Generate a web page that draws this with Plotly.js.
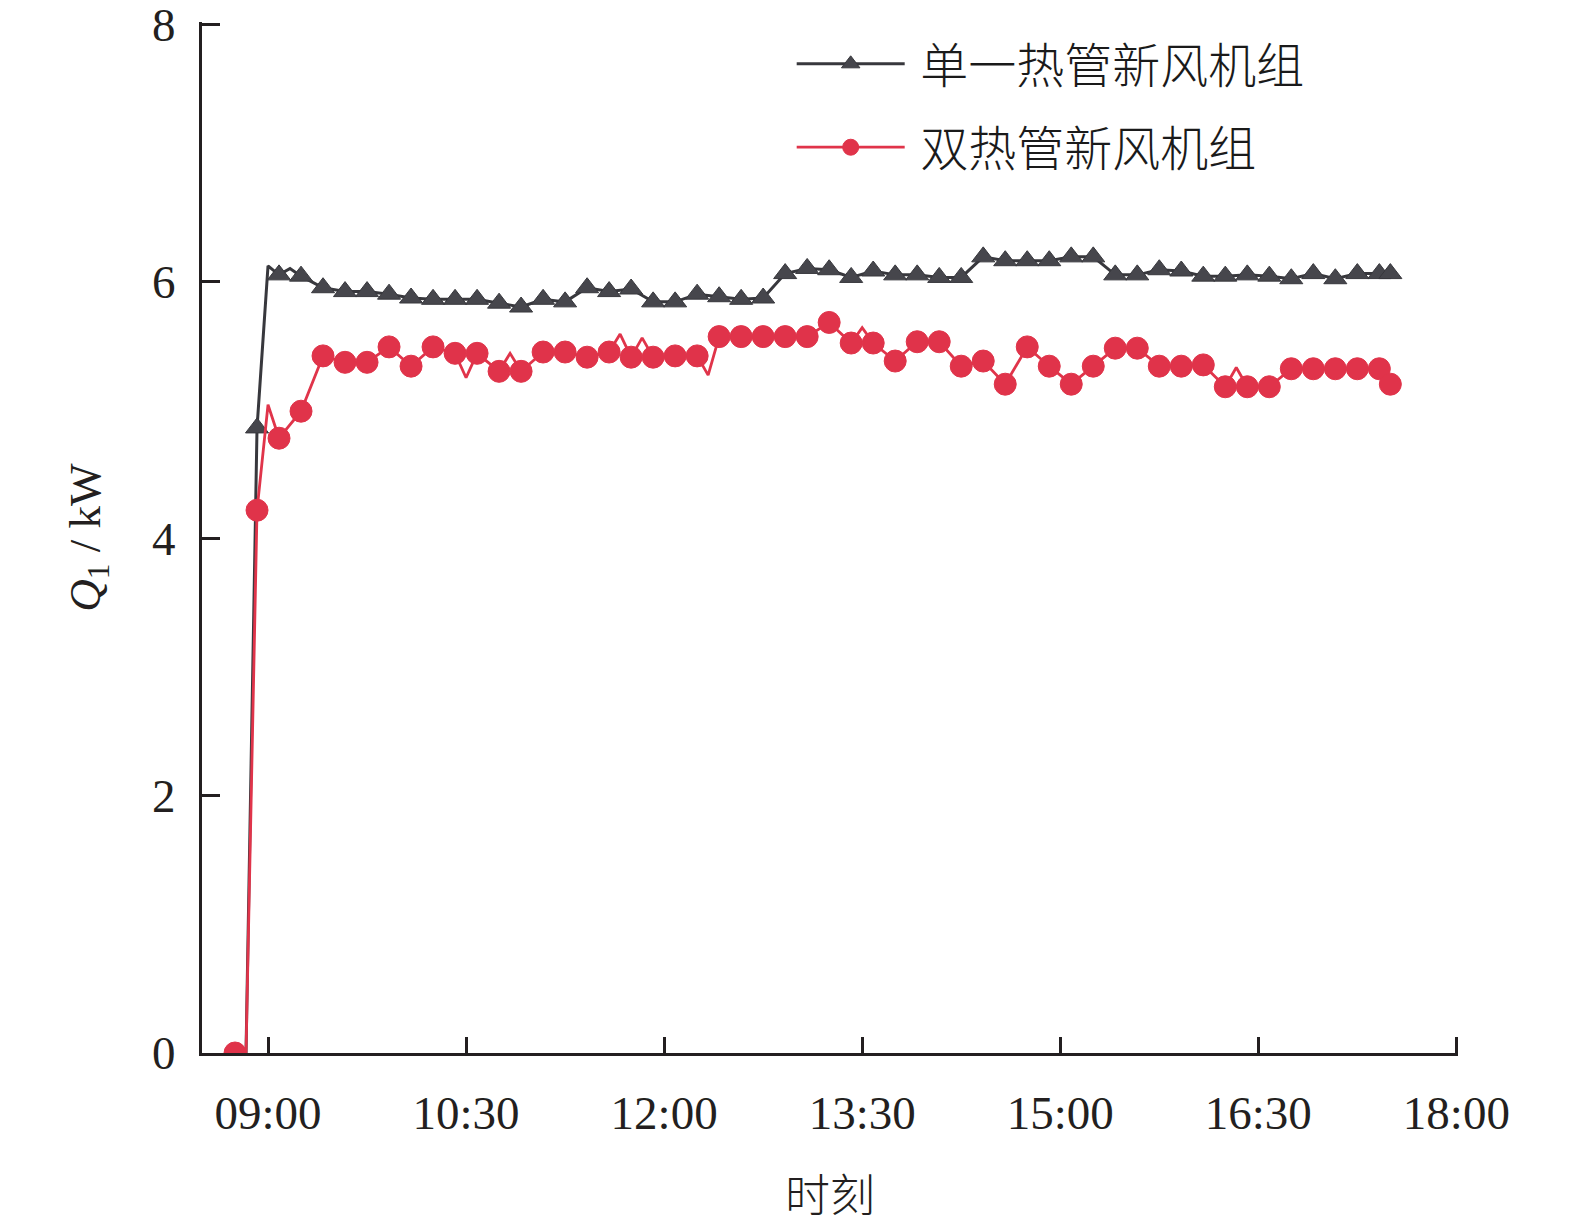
<!DOCTYPE html>
<html>
<head>
<meta charset="utf-8">
<script src="https://cdn.plot.ly/plotly-3.0.1.min.js"></script>
<style>html,body{margin:0;padding:0;background:#fff;}#chart{width:1575px;height:1226px;}</style>
</head>
<body>
<div id="chart"></div>
<script>
// ---- data ----
var seriesNames = ['单一热管新风机组', '双热管新风机组'];

// single heat-pipe unit (black, triangles); flag 1 = marker drawn, 0 = line vertex only
var singleTimes = ['08:50','08:55','09:00','09:05','09:10','09:15','09:25','09:35','09:45','09:55',
  '10:05','10:15','10:25','10:35','10:45','10:55','11:05','11:15','11:25','11:35','11:45','11:55',
  '12:05','12:15','12:25','12:35','12:45','12:55','13:05','13:15','13:25','13:35','13:45','13:55',
  '14:05','14:15','14:25','14:35','14:45','14:55','15:05','15:15','15:25','15:35','15:45','15:55',
  '16:05','16:15','16:25','16:35','16:45','16:55','17:05','17:15','17:25','17:30'];
var singleQ = [0.00,4.86,6.12,6.05,6.10,6.04,5.95,5.92,5.92,5.90,
  5.87,5.86,5.86,5.86,5.83,5.80,5.86,5.84,5.95,5.92,5.94,5.84,
  5.84,5.90,5.88,5.86,5.87,6.06,6.10,6.09,6.03,6.08,6.05,6.05,
  6.03,6.03,6.19,6.16,6.16,6.16,6.19,6.19,6.05,6.05,6.09,6.08,
  6.04,6.04,6.05,6.04,6.02,6.06,6.02,6.06,6.06,6.06];
var singleMarked = [0,1,0,1,0,1,1,1,1,1,
  1,1,1,1,1,1,1,1,1,1,1,1,
  1,1,1,1,1,1,1,1,1,1,1,1,
  1,1,1,1,1,1,1,1,1,1,1,1,
  1,1,1,1,1,1,1,1,1,1];

// double heat-pipe unit (red, circles)
var doubleTimes = ['08:45','08:50','08:55','09:00','09:05','09:15','09:25','09:35','09:45','09:55',
  '10:05','10:15','10:25','10:30','10:35','10:45','10:50','10:55','11:05','11:15','11:25','11:35',
  '11:40','11:45','11:50','11:55','12:05','12:15','12:20','12:25','12:35','12:45','12:55','13:05',
  '13:15','13:25','13:30','13:35','13:45','13:55','14:05','14:15','14:25','14:35','14:45','14:55',
  '15:05','15:15','15:25','15:35','15:45','15:55','16:05','16:15','16:20','16:25','16:35','16:45',
  '16:55','17:05','17:15','17:25','17:30'];
var doubleQ = [0.00,0.00,4.22,5.04,4.78,4.99,5.42,5.37,5.37,5.49,
  5.34,5.49,5.44,5.25,5.44,5.30,5.44,5.30,5.45,5.45,5.41,5.45,
  5.59,5.41,5.56,5.41,5.42,5.42,5.27,5.57,5.57,5.57,5.57,5.57,
  5.68,5.52,5.64,5.52,5.38,5.53,5.53,5.34,5.38,5.20,5.49,5.34,
  5.20,5.34,5.48,5.48,5.34,5.34,5.35,5.18,5.33,5.18,5.18,5.32,
  5.32,5.32,5.32,5.32,5.20];
var doubleMarked = [1,0,1,0,1,1,1,1,1,1,
  1,1,1,0,1,1,0,1,1,1,1,1,
  0,1,0,1,1,1,0,1,1,1,1,1,
  1,1,0,1,1,1,1,1,1,1,1,1,
  1,1,1,1,1,1,1,1,0,1,1,1,
  1,1,1,1,1];

var xTickVals = ['09:00','10:30','12:00','13:30','15:00','16:30','18:00'];
var yTickVals = [0,2,4,6,8];
var xRange = ['08:30','18:00:45'];
var yRange = [0,8.016];

// ---- build ----
var day = '2024-01-01 ';
function toDate(arr){ return arr.map(function(t){ return day + t; }); }
function sizes(flags, s){ return flags.map(function(f){ return f ? s : 0; }); }

var serif = '"Liberation Serif", "Times New Roman", serif';
var cjk = '"Noto Sans CJK SC", "Liberation Serif", serif';
var pad = '\u00a0';

var traces = [
  {
    x: toDate(singleTimes), y: singleQ, name: pad + seriesNames[0], legendgroup: 'a',
    type: 'scatter', mode: 'lines+markers',
    line: {color: '#38383d', width: 3},
    marker: {symbol: 'triangle-up', size: sizes(singleMarked, 20), color: '#46464c', opacity: 1}
  },
  {
    x: toDate(doubleTimes), y: doubleQ, name: pad + seriesNames[1], legendgroup: 'b',
    type: 'scatter', mode: 'lines+markers',
    line: {color: '#e0344a', width: 2.8},
    marker: {symbol: 'circle', size: sizes(doubleMarked, 22), color: '#e0334a', opacity: 1}
  }
];

var layout = {
  width: 1575, height: 1226,
  paper_bgcolor: '#ffffff', plot_bgcolor: '#ffffff',
  margin: {l: 202, r: 117, t: 22, b: 173},
  showlegend: true,
  legend: {
    x: 0.4695, y: 0.996, xanchor: 'left', yanchor: 'top',
    bgcolor: 'rgba(0,0,0,0)', borderwidth: 0,
    font: {family: cjk, size: 48, color: '#1a1a1a', weight: 300},
    itemwidth: 108, tracegroupgap: 18
  },
  xaxis: {
    type: 'date',
    range: toDate(xRange),
    tickvals: toDate(xTickVals),
    tickformat: '%H:%M',
    ticks: 'inside', ticklen: 16, tickwidth: 3, tickcolor: '#231f20',
    showline: true, linecolor: '#231f20', linewidth: 3,
    showgrid: false, zeroline: false,
    tickfont: {family: serif, size: 47, color: '#231f20'},
    ticklabelstandoff: 17, ticklabeloverflow: 'allow',
    title: {text: '时刻', font: {family: cjk, size: 45, color: '#231f20', weight: 300}, standoff: 43},
    automargin: false, fixedrange: true
  },
  yaxis: {
    range: yRange,
    tickvals: yTickVals,
    ticks: 'inside', ticklen: 18, tickwidth: 3, tickcolor: '#231f20',
    showline: true, linecolor: '#231f20', linewidth: 3,
    showgrid: false, zeroline: false,
    tickfont: {family: serif, size: 47, color: '#231f20'},
    ticklabelstandoff: 14, ticklabeloverflow: 'allow',
    title: {text: '<i>Q</i><sub>1</sub> / kW', font: {family: serif, size: 45, color: '#231f20'}, standoff: 38},
    automargin: false, fixedrange: true
  }
};

Plotly.newPlot('chart', traces, layout, {displayModeBar: false, staticPlot: true});
</script>
</body>
</html>
